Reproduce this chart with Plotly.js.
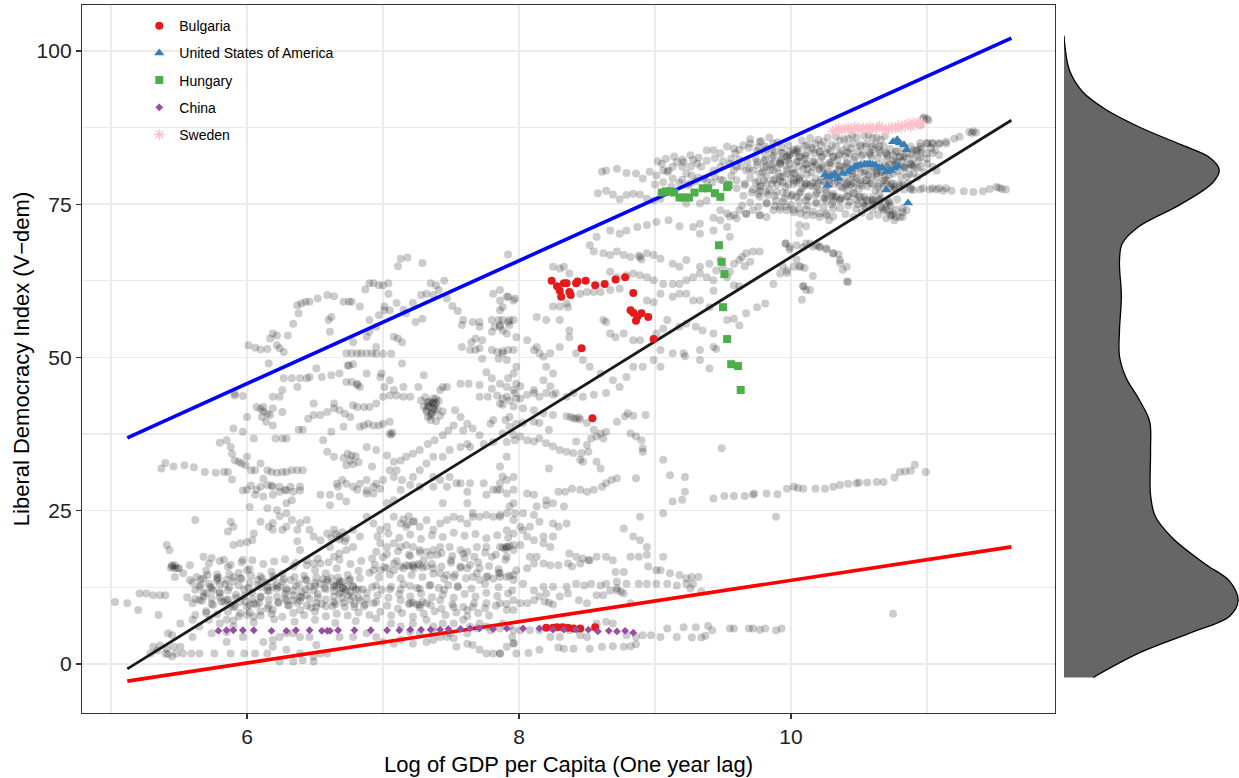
<!DOCTYPE html>
<html><head><meta charset="utf-8">
<script src="https://cdn.plot.ly/plotly-3.0.1.min.js"></script>
<style>html,body{margin:0;padding:0;background:#fff;}#chart{width:1239px;height:778px;}</style>
</head><body><div id="chart"></div>
<script>
// ---------- DATA ----------
// Gray background observations [log GDP per capita, Liberal Democracy Index]
const grayUpperLeft = [
[7.13,66.1],[7.18,66.3],[7.29,65.4],[7.11,64.9],[7.92,66.8],
[6.34,55.5],[6.38,57.2],[6.37,58.5],[6.40,58.8],[6.43,59.1],[6.46,59.1],[6.52,59.6],[6.59,60.2],[6.64,60.0],[6.71,59.1],[6.75,59.1],[6.77,59.1],[6.83,58.3],[6.87,61.1],[6.90,62.1],[6.93,62.1],[6.97,61.8],[7.00,61.8],[7.04,62.1],[7.04,60.4],[7.01,58.3],[7.05,57.7],[7.10,58.9],[7.15,57.8],[7.17,57.2],[7.22,58.9],[7.24,55.8],[7.28,60.2],[7.32,60.4],[7.35,62.1],[7.39,61.8],[7.41,61.0],[7.37,60.2],[7.29,56.3],
[6.01,52.0],[6.06,51.6],[6.10,51.3],[6.15,51.4],[6.22,52.0],[6.24,51.5],[6.27,50.9],[6.17,53.1],[6.19,53.9],[6.22,53.6],[6.30,53.6],[6.16,49.0],[6.60,56.1],[6.61,54.2],[6.62,56.6],
[6.73,50.7],[6.77,50.7],[6.81,50.7],[6.84,50.7],[6.88,50.7],[6.92,50.7],[6.95,50.6],[7.00,50.6],[7.06,50.6],[6.95,51.7],[6.75,48.7],[6.78,48.9],[6.73,46.0],[6.81,45.7],[6.83,45.2],[6.88,47.4],[6.99,47.4],[6.98,46.8],[7.08,53.4],[7.11,53.1],[7.14,52.5],[7.14,49.0],[6.78,52.5],[6.88,53.4],[6.90,54.2],[6.90,56.1],[6.95,55.0],[6.97,56.9],[7.01,57.7],
[7.58,51.7],[7.64,51.2],[7.68,51.2],[7.71,51.5],[7.65,52.5],[7.66,55.8],[7.71,55.8],[7.81,60.4],[7.86,59.3],[7.86,57.7],[7.80,56.1],[7.85,56.1],[7.88,56.1],[7.92,55.8],[7.96,56.1],[7.82,55.0],[7.86,55.3],[7.88,54.4],[7.93,55.3],[7.80,51.2],[7.84,50.9],[7.88,51.0],[7.92,51.2],[7.96,51.2],[7.85,49.8],[7.92,59.9],[7.97,59.6],[7.98,48.5],[7.92,46.6],[7.80,54.2],[7.73,49.8],
[6.51,48.2],[6.55,46.8],[6.62,47.1],[6.64,42.5],[6.68,47.4],[6.74,48.7],[6.77,46.0],[6.81,45.5],[6.44,46.6],[6.27,46.6],[6.33,46.6],[6.39,46.6],[6.46,46.8],[6.26,44.7],[6.37,45.2],[5.91,44.1],[6.19,43.6],[6.24,43.6],
[7.57,45.7],[7.63,45.7],[7.71,45.5],[7.80,46.6],[7.80,44.9],[7.76,47.6],[7.86,45.7],[7.91,45.2],[7.96,44.7],[7.98,45.7],[7.58,55.3],[7.73,52.8],[7.59,56.1],[7.68,53.1],[7.71,55.0],
[7.47,59.6],[7.51,58.4],[7.55,57.6],[7.45,62.5]
];
const grayMiddleLeft = [
[5.37,31.9],[5.40,32.8],[5.46,32.2],[5.54,32.4],[5.61,32.1],[5.69,31.3],[5.77,31.2],[5.83,31.3],[5.86,31.3],[5.89,30.1],
[5.80,36.1],[5.85,36.5],[5.88,35.4],[5.89,34.3],[5.90,38.4],[5.97,37.9],[5.91,33.2],[5.94,33.0],[5.96,32.7],[5.99,32.4],[6.03,31.6],[6.06,31.6],
[5.91,43.8],[5.97,43.7],[6.07,41.9],[6.12,41.9],[6.19,41.7],[6.17,40.6],[6.11,40.3],[6.26,41.1],[6.14,39.5],[6.19,38.9],[6.00,40.3],[6.05,36.8],[6.21,36.8],[6.26,36.8],[6.29,36.8],[6.38,38.2],[6.41,38.2],[6.45,40.0],[6.49,40.6],[6.54,40.6],[6.59,41.1],[6.64,41.7],[6.68,41.4],[6.72,40.8],[6.76,40.3],[6.71,38.7],[6.62,37.9],[6.56,36.5],[6.59,34.6],[6.64,33.8],[6.49,42.5],
[6.71,33.6],[6.74,34.3],[6.76,33.2],[6.78,32.6],[6.80,33.9],[6.73,32.4],[6.82,32.9],[6.77,34.0],
[6.83,38.7],[6.86,38.9],[6.89,39.2],[6.93,38.9],[6.97,38.9],[7.00,39.2],[7.05,39.5],[7.05,37.6],[7.06,37.4],[7.07,37.7],
[6.78,42.2],[6.81,41.9],[6.86,41.9],[6.90,41.9],[6.95,42.5],[7.00,43.6],[7.05,43.8],[7.10,43.8],[7.15,43.6],[7.20,43.6],
[7.05,46.3],[7.01,45.2],[7.08,44.7],[7.15,45.2],[7.26,45.2],[7.30,47.1],[7.28,43.0],[7.33,42.7],[7.37,42.7],[7.39,43.3],[7.42,44.7],[7.44,45.2],[7.47,45.2],
[7.30,42.0],[7.32,41.5],[7.34,42.8],[7.36,41.0],[7.38,42.2],[7.33,40.3],[7.35,39.8],[7.40,41.6],[7.42,40.5],[7.37,43.3],[7.31,43.5],[7.39,39.6],[7.44,41.2],[7.36,40.8],[7.41,42.9],
[7.32,41.2],[7.34,41.9],[7.36,42.5],[7.38,41.4],[7.35,40.5],[7.33,42.2],[7.37,41.7],[7.39,42.6],[6.12,41.2],[6.15,40.8],[6.10,41.6],
[7.53,41.4],[7.57,40.3],[7.62,39.2],[7.66,38.4],[7.71,37.3],[7.74,35.9],[7.59,38.1],[7.52,38.9],[7.48,38.1],[7.44,37.3],[7.38,36.5],[7.33,35.9],[7.27,34.9],[7.22,34.3],[7.17,33.8],[7.13,33.2],[7.10,31.6],[7.08,30.5],[7.14,30.0],
[7.71,43.6],[7.77,43.6],[7.84,43.8],[7.88,43.3],[7.93,43.0],[7.98,43.3],[7.86,42.5],[7.81,39.8],[7.79,39.2],[7.90,39.8],[7.93,40.3],[7.98,39.2],[7.81,36.2],[7.91,36.2],[7.97,36.5],[7.62,35.9],[7.64,35.4],[7.57,35.4],[7.49,34.9],[7.44,33.8],[7.37,33.8],[7.32,32.7],[7.27,31.6],[7.22,30.5],[7.37,30.5],[7.42,30.0],[7.49,30.5],[7.57,29.5],[7.64,29.5],[7.74,29.5],[7.81,28.4],[7.86,29.5],[7.91,30.0],[7.96,30.5],
[6.00,33.8],[6.10,32.7],[6.15,31.6],[6.18,31.3],[6.22,31.2],[6.26,31.3],[6.29,31.3],[6.33,31.6],[6.37,31.6],[6.41,31.6],[6.12,30.2],[6.18,29.1],[6.24,28.9],[6.29,28.3],[6.34,28.1],[6.39,28.3],[6.03,29.1],[6.07,28.4],[5.97,28.3],[6.66,29.4],[6.70,30.0],[6.73,29.4],[6.78,28.9],[6.83,29.4],[6.88,30.0],[6.88,28.3],[6.93,27.8],[6.95,29.4],[7.00,30.0],[7.05,31.6],[7.08,33.0],[6.92,32.2],[6.88,35.4],[6.95,34.9],[7.03,34.0]
];
const grayLowerLeft = [
[6.00,28.4],[6.10,28.9],[6.15,29.2],[6.19,28.9],[6.24,28.1],[6.28,28.4],[6.32,28.9],[6.19,27.6],[6.12,27.3],[6.06,27.6],[6.02,25.6],[6.15,25.4],[6.22,25.1],[6.29,26.2],[6.33,26.7],[6.39,28.9],[6.54,27.6],[6.61,27.6],[6.68,27.3],[6.67,28.9],[6.61,25.9],[6.73,26.5],[6.81,28.4],[6.88,27.8],[6.93,28.9],[6.98,28.6],[7.03,26.2],[7.08,26.7],[7.13,28.4],[7.20,29.2],[7.27,28.9],[7.37,28.9],[7.47,28.9],[7.54,29.5],[7.62,28.1],[7.76,27.6],[7.84,28.4],[7.91,27.8],[7.44,26.2],[7.62,26.2],[7.66,24.6],[7.96,26.2],
[5.62,23.5],[5.88,23.2],[5.90,22.4],[5.86,21.6],[5.90,19.4],[5.95,19.7],[6.00,19.9],[6.04,20.2],[6.05,21.3],[6.10,23.2],[6.16,22.4],[6.19,23.0],[6.24,24.1],[6.29,24.6],[6.33,23.5],[6.39,23.0],[6.44,23.5],[6.46,21.9],[6.37,21.9],[6.29,22.4],[6.26,21.9],[6.19,21.9],
[6.37,20.0],[6.39,18.6],[6.49,20.8],[6.54,20.2],[6.59,21.3],[6.64,21.9],[6.68,20.8],[6.73,20.5],[6.78,21.9],[6.83,20.8],[6.78,19.1],[6.73,18.6],[6.68,18.0],[6.64,17.5],[6.61,19.1],[6.54,16.4],[6.49,16.4],[6.44,16.9],
[6.88,24.0],[6.93,22.9],[6.98,21.9],[7.03,22.4],[7.08,24.0],[7.13,22.9],[7.17,22.4],[7.22,23.2],[7.27,22.4],[7.32,23.5],[7.37,21.9],[7.42,22.9],[7.47,23.5],[7.52,24.0],[7.57,23.7],[7.62,22.9],[7.66,24.0],[7.71,24.0],[7.76,24.3],[7.81,24.0],[7.86,24.3],[7.91,24.6],[7.97,24.6],
[6.98,19.7],[7.03,19.1],[7.08,19.7],[7.13,19.1],[7.17,19.4],[7.22,19.1],[7.27,18.6],[7.32,18.3],[7.37,18.6],[7.42,19.1],[7.49,19.1],[7.57,18.6],[7.62,18.3],[7.69,19.1],[7.76,19.1],[7.86,19.1],[7.91,19.1],[7.96,19.4],
[5.41,19.4],[5.43,18.6],[5.45,16.1],[5.47,15.6],[5.50,15.6],[5.47,14.2],[5.58,16.1],[5.45,15.9],[5.47,16.1],[5.49,15.6],[5.44,15.7],
[5.68,17.5],[5.74,17.3],[5.83,17.0],[5.78,14.0],[5.68,14.0],[5.85,13.7],[5.90,14.2],[5.97,17.0],[6.00,15.3],
[5.65,12.6],[5.70,11.5],[5.75,12.0],[5.80,11.5],[5.85,10.4],[5.90,9.3],[5.95,8.3],[6.00,9.3],[6.05,9.9],[6.10,11.0],[6.15,12.0],[6.19,12.6],[6.24,12.6],[6.29,12.0],[6.34,11.2],[6.39,11.0],[6.44,11.2],[6.49,12.0],[6.54,13.1],[6.59,13.4],[6.64,12.6],[6.68,13.1],[6.73,12.0],[6.78,11.0],[6.83,10.4],[6.68,11.5],[6.64,10.1],[6.51,9.3],[6.39,8.8],[6.29,10.4],[6.19,8.8],[6.10,8.6],[6.05,7.7],[6.00,8.0],
[5.29,1.7],[5.34,2.2],[5.40,1.7],[5.42,1.6],[5.48,1.7],[5.53,1.7],[5.59,1.7],[5.65,1.7],[5.76,1.7],[5.88,1.7],[5.98,1.7],[6.06,1.7],[6.15,1.7],[6.24,0.4],[6.34,0.4],[6.41,0.6],[6.49,0.4],
[5.31,2.8],[5.36,3.0],[5.41,2.5],[5.46,2.8],[5.51,2.8],[5.45,1.2],
[5.21,11.5],[5.26,11.5],[5.31,11.2],[5.36,11.2],[5.40,11.2],[5.12,9.9],[5.03,10.1],[5.20,8.8],[5.35,8.0],[5.51,6.6],[5.42,5.0],[5.45,4.7],
[5.53,14.8],[5.58,13.7],[5.65,10.4],[5.70,8.3],[5.72,7.2],[5.80,6.6],[5.85,7.2],[5.90,6.1],[5.65,6.1],[5.60,7.2],[5.74,5.0],[5.60,4.4],
[5.85,3.6],[5.85,5.2],[5.97,4.4],[6.12,3.6],[6.19,3.9],[6.24,4.4],[6.29,5.0],[6.34,5.0],[6.39,4.4],[6.46,4.4],[6.51,3.1],[6.54,1.7],[6.59,1.7],[6.49,1.2],[6.39,1.7],[6.29,2.3],[6.19,2.8],[6.68,4.4],[6.78,4.4],[6.88,5.0],[6.95,4.4],[7.00,3.6],[7.08,3.3],[7.13,3.9],[7.22,3.3],[7.32,3.6],[7.37,3.9],[7.42,4.4],[7.47,4.4],[7.52,4.2],[7.54,2.8],[7.62,3.3],[7.66,3.1],[7.71,2.3],[7.76,1.7],[7.81,1.7],[7.86,1.7],[7.91,2.8],[7.96,3.3],[7.62,5.0],[7.49,5.0],[7.37,5.2],[7.27,5.0],[7.20,5.2],[7.69,5.8],[7.76,6.1],
[6.93,15.3],[6.98,15.3],[7.03,15.6],[7.08,15.3],[7.13,15.9],[7.17,16.1],[7.22,15.9],[7.27,16.1],[7.32,15.9],[7.37,15.6],[7.42,14.8],[7.47,14.5],[7.52,14.2],[7.57,15.9],[7.62,15.6],[7.66,14.2],[7.71,13.7],[7.76,14.2],[7.81,13.9],[7.86,14.2],[7.91,14.2],[7.96,14.5],
[7.13,10.4],[7.20,9.9],[7.27,9.6],[7.32,9.9],[7.42,10.4],[7.52,9.3],[7.62,8.8],[7.66,9.3],[7.76,9.9],[7.86,9.9],[7.96,10.4],
[7.06,6.6],[7.13,6.1],[7.22,6.6],[7.32,7.2],[7.37,6.1],[7.44,6.6],[7.52,6.6],[7.59,7.2],[7.64,6.1],[7.71,6.6],[7.79,5.5],[7.86,5.8],[7.93,6.1],
[5.62,12.1],[5.68,11.6],[5.74,12.4],[5.80,11.8],[5.86,12.0],[5.92,11.3],[5.98,12.2],[6.04,11.7],[6.10,12.5],[6.16,11.9],[6.22,12.3],[6.28,11.5],[6.34,12.0],[6.40,11.8],[6.46,12.6],[6.52,11.4],[6.58,12.2],[6.64,11.9],[6.70,12.4],[6.76,11.7],[6.82,12.1],[6.88,11.6],
[5.70,15.2],[5.78,14.6],[5.86,15.8],[5.94,14.9],[6.02,15.5],[6.10,14.3],[6.18,15.1],[6.26,14.7],[6.34,15.9],[6.42,14.4],[6.50,15.3],[6.58,14.8],[6.66,15.6],[6.74,14.5],[6.82,15.2],[6.90,14.9],
[5.75,9.6],[5.83,10.1],[5.91,9.4],[5.99,10.2],[6.07,9.7],[6.15,9.1],[6.23,9.9],[6.31,9.5],[6.39,10.3],[6.47,9.2],[6.55,9.8],[6.63,9.4],[6.71,10.0],[6.79,9.3],[6.87,9.7],[6.95,10.1],[7.03,9.5],[7.11,9.0],[7.19,9.8],[7.27,9.2],[7.35,9.6],[7.43,9.0],[7.51,9.7],[7.59,9.3],[7.67,9.9],[7.75,9.1],[7.83,9.5],[7.91,9.8],
[5.90,7.1],[6.05,6.8],[6.20,7.3],[6.35,6.9],[6.50,7.2],[6.65,6.7],[6.80,7.0],[6.95,7.4],
[6.95,12.8],[7.05,12.2],[7.15,13.0],[7.25,12.4],[7.35,12.9],[7.45,12.1],[7.55,12.7],[7.65,12.3],[7.75,13.1],[7.85,12.5],[7.95,12.0],
[7.00,17.4],[7.10,16.8],[7.20,17.6],[7.30,17.0],[7.40,17.8],[7.50,16.9],[7.60,17.3],[7.70,16.6],[7.80,17.5],[7.90,17.0],
[6.66,12.9],[6.70,13.4],[6.73,12.6],[6.76,13.8],[6.80,12.2],[6.69,11.8],[6.74,11.2],[6.78,12.7],
[6.62,20.6],[6.65,21.2],[6.68,20.3],[6.70,21.5],[6.72,20.0],
[7.15,23.6],[7.19,24.1],[7.23,23.3],[7.18,22.8],
[7.88,19.0],[7.90,18.7],[7.93,19.2],
[7.22,10.0],[7.25,9.7],[7.29,10.2],[7.19,16.0],[7.23,15.6],[7.26,16.3]
];
const grayLowerLeftDense = [
[5.60,13.3],[5.66,13.8],[5.72,13.1],[5.78,13.6],[5.84,13.0],[5.90,13.5],[5.96,13.9],[6.02,13.2],[6.08,13.7],[6.14,13.3],[6.20,13.9],[6.26,13.4],[6.32,13.7],[6.38,13.1],[6.44,13.6],[6.50,13.2],[6.56,13.8],[6.62,14.0],[6.68,13.5],
[5.56,10.9],[5.62,10.6],[5.68,11.0],[5.74,10.7],[5.80,10.9],[5.86,10.5],[5.92,10.8],[5.98,11.1],[6.04,10.6],[6.10,10.9],[6.16,10.5],[6.22,11.0],[6.28,10.7],[6.34,10.4],[6.40,10.9],[6.46,10.6],[6.52,10.8],[6.58,10.5],[6.64,11.0],[6.70,10.7],[6.76,10.4],[6.82,10.9],[6.88,10.6],
[5.72,16.4],[5.80,16.8],[5.88,16.2],[5.96,16.6],[6.04,16.9],[6.12,16.3],[6.20,16.7],[6.28,17.1],[6.36,16.5],[6.44,16.1],[6.52,17.2],[6.60,16.6],[6.68,17.0],[6.76,16.3],[6.84,16.8],[6.92,17.2],
[5.62,8.0],[5.70,8.6],[5.78,8.1],[5.86,8.5],[5.94,7.8],[6.02,8.4],[6.10,7.9],[6.18,8.2],[6.26,7.7],[6.34,8.3],[6.42,8.0],[6.50,8.5],[6.58,7.8],[6.66,8.2],[6.74,7.9],[6.82,8.4],[6.90,8.0],[6.98,8.5],[7.06,7.9],[7.14,8.3],[7.22,7.7],[7.30,8.2],[7.38,8.6],[7.46,8.0],[7.54,8.4],[7.62,7.8],[7.70,8.3],[7.78,7.9],
[6.96,11.2],[7.04,10.8],[7.12,11.4],[7.20,11.0],[7.28,11.5],[7.36,10.9],[7.44,11.3],[7.52,10.8],[7.60,11.4],[7.68,11.0],[7.76,11.6],[7.84,11.1],[7.92,11.5],
[6.97,14.1],[7.05,14.6],[7.13,14.0],[7.21,14.5],[7.29,14.2],[7.37,14.7],[7.45,13.9],[7.53,14.6],[7.61,14.0],[7.69,14.8],[7.77,14.3],[7.85,14.9],[7.93,14.4],
[6.96,20.8],[7.04,21.3],[7.12,20.6],[7.20,21.1],[7.28,20.4],[7.36,21.0],[7.44,20.7],[7.52,21.4],[7.60,20.9],[7.68,21.2],[7.76,20.5],[7.84,21.0],[7.92,20.6]
];
const grayLowerLeftCore = [
[5.66,12.9],[5.73,12.6],[5.80,13.0],[5.87,12.5],[5.94,12.8],[6.01,12.4],[6.08,12.9],[6.15,12.5],[6.22,12.8],[6.29,12.3],[6.36,12.7],[6.43,12.2],[6.50,12.7],[6.57,12.4],[6.64,12.8],[6.71,12.3],[6.78,12.6],[6.85,12.2],[6.92,12.5],[6.99,12.1],[7.06,12.6],[7.13,12.2],[7.20,12.7],[7.27,12.3],[7.34,12.8],[7.41,12.4],[7.48,12.9],[7.55,12.5],
[5.60,9.9],[5.67,10.3],[5.74,9.8],[5.81,10.2],[5.88,9.7],[5.95,10.1],[6.02,9.6],[6.09,10.0],[6.16,9.5],[6.23,10.1],[6.30,9.6],[6.37,10.0],[6.44,9.5],[6.51,9.9],[6.58,9.4],[6.65,9.8],[6.72,9.3],[6.79,9.8],[6.86,9.4],[6.93,9.9],
[6.94,16.2],[7.01,15.8],[7.08,16.4],[7.15,15.6],[7.22,16.2],[7.29,15.7],[7.36,16.3],[7.43,15.9],[7.50,16.5],[7.57,15.7],[7.64,16.2],[7.71,15.6],[7.78,16.0],[7.85,15.5],
[6.95,18.3],[7.03,17.9],[7.11,18.4],[7.19,17.8],[7.27,18.2],[7.35,17.7],[7.43,18.1],[7.51,17.6],[7.59,18.0],[7.67,17.5],[7.75,18.2],[7.83,17.8],
[5.63,14.2],[5.71,14.5],[5.79,14.1],[5.87,14.6],[5.95,14.0],[6.03,14.4],[6.11,13.9],[6.19,14.3],[6.27,13.8],[6.35,14.2],[6.43,13.8],[6.51,14.1],[6.59,13.7],[6.67,14.1],[6.75,13.6],[6.83,14.0]
];
const grayLowerRight = [
[7.91,43.6],[7.97,44.2],[8.01,43.3],[8.06,43.9],[8.11,44.2],[8.15,43.6],[8.20,44.2],[8.25,43.9],[8.35,43.6],[8.40,44.2],[8.47,43.6],[8.55,43.9],[8.64,44.2],[7.88,42.3],[7.96,42.0],[8.03,41.7],[8.11,41.4],[8.18,40.9],[8.25,40.6],[8.35,40.4],[8.40,40.1],[8.45,39.9],[8.50,39.3],[8.55,38.2],[8.60,37.6],[8.64,37.9],[8.57,37.1],[8.62,36.8],[8.53,36.8],[8.50,35.7],[8.46,34.4],[8.51,34.6],[8.45,33.3],[8.47,33.0],[8.57,33.0],[8.60,31.9],[8.42,36.3],[8.22,31.9],[8.72,39.5],[8.78,40.4],[8.80,40.9],[8.84,40.5],[8.93,40.6],[8.82,37.6],[8.86,37.1],[8.90,36.5],[8.91,35.2],[8.91,34.6],[8.38,40.3],[8.42,40.0],[8.44,40.2],
[7.88,37.6],[7.96,37.4],[8.01,37.1],[8.06,36.5],[8.11,36.3],[8.15,36.8],[8.20,36.0],[8.25,35.5],[8.30,34.9],[8.35,34.6],[8.40,34.4],[7.93,38.7],[8.03,39.3],[8.11,39.5],[8.15,39.3],[8.22,38.2],
[9.06,33.3],[9.11,30.8],[9.22,30.5],[9.22,28.1],[9.13,26.5],[9.20,26.8],[9.06,24.6],[8.89,24.0],[8.86,30.3],[8.72,30.3],[8.68,30.0],[8.64,29.5],[8.61,28.9],[8.55,28.4],[8.50,28.1],[8.45,28.4],[8.39,28.6],[8.34,28.1],[8.29,28.1],[9.49,35.2],[9.89,24.0],[10.75,8.2],
[9.43,27.0],[9.51,27.4],[9.58,27.4],[9.66,27.4],[9.72,27.6],[9.73,27.8],[9.82,27.8],[9.90,27.7],[9.97,28.6],[10.02,28.9],[10.05,28.7],[10.09,28.6],[10.18,28.6],[10.25,28.6],[10.31,28.9],[10.36,29.2],[10.42,29.4],[10.48,29.5],[10.50,29.6],[10.56,29.6],[10.63,29.7],[10.68,29.7],[10.76,30.4],[10.80,31.3],[10.84,31.4],[10.88,31.5],[10.91,32.5],[10.99,31.3],
[7.86,32.2],[7.91,33.8],[7.88,30.6],[7.86,28.4],[7.96,28.4],[8.06,27.8],[8.11,27.6],[8.20,25.9],[8.33,25.7],[8.35,22.9],[8.29,22.4],[8.25,22.9],[8.15,23.2],[8.11,24.3],[8.03,24.6],[8.01,22.4],[7.96,23.5],[7.93,25.7],[8.01,19.4],[7.91,19.1],[8.06,20.8],[8.11,20.2],[8.18,20.8],[8.25,20.8],[8.23,19.1],[8.18,19.7],[8.13,17.5],[8.08,17.5],[8.11,16.4],[8.18,16.4],[8.23,16.1],[8.29,16.1],[8.36,16.4],[8.39,15.9],[8.45,16.4],[8.51,16.9],[8.57,17.5],[8.64,17.5],[8.69,16.9],[8.71,15.0],[8.77,15.0],[8.82,17.5],[8.88,17.5],[8.94,17.8],[8.95,15.9],[9.01,15.3],[9.06,17.5],[9.04,15.3],[9.11,14.8],[9.18,14.5],[9.23,14.0],[9.27,14.2],[9.32,14.2],[9.28,13.1],[9.26,12.3],[9.34,11.8],[9.23,13.1],[9.16,12.8],[9.09,13.1],[9.01,13.1],[8.94,13.1],[8.88,13.1],[8.79,13.1],[8.72,13.4],[8.64,13.1],[8.60,12.8],[8.53,13.1],[8.48,12.8],[8.42,13.1],[8.35,12.6],[8.25,12.6],[8.20,11.5],[8.15,11.0],[8.11,10.4],[8.06,9.9],[8.01,9.9],[7.96,8.8],[7.91,8.8],[8.30,11.0],[8.36,11.5],[8.44,10.4],[8.50,9.9],[8.57,11.2],[8.62,11.2],[8.67,12.0],[8.72,12.0],[8.77,11.5],[8.82,9.9],[8.19,10.2],[8.22,10.0],[8.25,9.7],[8.72,12.4],[8.75,11.8],
[7.88,6.6],[7.96,5.5],[8.01,5.5],[8.08,5.5],[8.15,5.5],[8.23,4.4],[8.30,4.4],[8.37,5.5],[8.45,4.7],[8.50,4.4],[8.57,6.6],[8.64,6.9],[8.69,6.6],[8.79,4.7],[8.86,4.4],[8.91,4.7],[8.97,4.7],[9.04,4.4],[9.09,5.8],[9.16,4.4],[9.21,6.0],[9.27,4.3],[9.30,6.0],[9.34,4.3],[9.37,4.6],[9.39,6.2],[9.42,5.5],[9.55,5.8],[9.58,5.8],[9.69,5.8],[9.72,5.8],[9.77,5.6],[9.81,5.8],[9.89,5.5],[9.93,5.8],[7.86,1.7],[7.98,1.7],[8.07,1.8],[8.15,2.3],[8.29,2.7],[8.33,2.5],[8.40,2.5],[8.52,2.5],[8.61,2.8],[8.69,2.9],[8.77,2.8],[8.82,2.9],[8.86,3.2],[7.96,3.4],[7.95,4.4],
[7.86,24.0],[7.91,21.8],[7.96,21.3],[8.03,21.8],[8.08,22.4],[8.13,25.7],[8.20,26.7],[8.25,26.2],[7.91,17.5],[7.96,18.6],[7.98,15.3],[8.06,15.6],[7.86,14.8],[7.96,13.7],[8.03,13.1],[8.11,12.0],[8.18,12.6],
[8.37,18.0],[8.42,17.5],[8.47,17.2],[8.52,16.9],[8.77,22.1],[8.84,20.8],[8.89,20.2],[8.94,19.1]
];
const grayMiddleRight = [
[9.01,72.1],[9.10,72.4],[9.18,71.4],[9.28,71.3],[9.33,71.8],[9.43,72.8],[9.48,72.4],[9.55,73.0],[9.60,72.7],[9.67,73.4],[9.77,73.2],
[8.57,69.7],[8.67,70.7],[8.74,70.2],[8.79,70.7],[8.87,71.3],[8.94,71.6],[9.33,70.2],[9.43,70.7],[9.53,71.3],[9.55,69.7],
[8.52,68.3],[8.55,67.3],[8.62,67.0],[8.67,66.7],[8.72,67.3],[8.77,66.7],[8.82,66.4],[8.89,66.4],[8.94,67.0],[8.99,66.7],[9.04,66.1],[9.13,65.3],[9.18,64.8],[9.23,65.9],[9.33,64.8],[9.40,65.3],[9.48,65.9],[9.58,65.3],[9.62,65.9],[9.67,67.0],[9.72,67.3],[9.77,67.3],[8.88,66.6],[8.90,66.0],[9.64,66.4],[9.70,65.6],[9.66,64.9],
[8.33,64.8],[8.37,63.7],[8.30,64.5],[8.25,64.8],[8.67,64.0],[8.72,63.1],[8.79,63.4],[8.84,63.7],[8.89,63.4],[8.94,63.1],[8.99,62.6],[9.06,62.0],[9.13,62.0],[9.18,62.0],[9.23,62.6],[9.28,63.1],[9.33,63.7],[9.38,63.1],[9.43,62.6],[9.53,63.1],[9.58,61.8],[9.62,61.6],[9.45,64.2],[9.50,64.6],[9.55,64.0],
[8.25,58.3],[8.30,58.3],[8.35,58.8],[8.45,60.4],[8.50,60.7],[8.55,60.7],[8.60,60.7],[8.67,61.0],[8.74,61.2],[8.94,59.3],[8.99,59.0],[9.04,60.4],[9.13,59.9],[9.18,60.4],[9.23,60.4],[9.28,59.3],[9.33,59.3],[9.40,58.2],[9.43,60.9],[8.36,58.2],
[8.13,56.6],[8.20,56.1],[8.30,56.1],[8.37,54.4],[8.62,56.1],[8.64,55.8],[8.67,53.9],[8.71,53.3],[8.77,53.9],[8.84,52.8],[8.89,52.8],[9.01,53.9],[9.06,54.7],[9.09,56.1],[9.18,55.0],[9.23,55.5],[9.30,55.0],[9.35,54.4],[9.43,53.9],[9.45,51.4],[9.53,56.1],[9.58,56.3],[9.62,55.2],[9.67,57.2],[9.75,58.2],[9.81,58.8],[9.87,62.0],
[9.96,68.6],[9.99,68.0],[10.04,68.3],[10.09,68.0],[10.14,68.6],[10.19,68.3],[10.21,68.0],[10.26,67.8],[10.31,67.0],[10.36,65.9],[10.41,64.8],[10.42,62.3],
[9.92,63.7],[9.97,64.2],[10.02,64.8],[10.07,64.8],[10.09,61.6],[10.11,61.0],[10.08,59.4],
[7.98,53.3],[8.06,52.8],[8.13,51.7],[8.18,50.1],[8.23,50.7],[8.30,51.7],[8.37,53.3],[8.42,50.7],[8.47,49.6],[8.52,48.5],[8.60,47.4],[8.69,46.3],[8.74,45.2],[8.79,46.8],[8.84,48.5],[8.91,48.5],[8.99,49.6],[9.04,51.2],[9.04,48.5],[9.13,50.7],[9.21,50.7],[9.33,51.2],[9.43,51.7],[9.40,48.2],[9.22,50.2],[9.33,49.6],
[7.86,61.0],[7.91,59.9],[7.96,59.3],[7.88,58.2],[7.93,56.1],[7.86,55.0],[7.91,53.9],[8.11,51.2],[8.15,50.7],[8.20,48.5],[8.25,47.4],[7.88,50.7],[7.91,49.6],[7.96,47.4],[8.01,45.3],[8.11,44.7],[8.18,46.3],[8.23,45.3],[8.27,44.2]
];
const grayUpperRight = [
[8.61,80.3],[8.64,80.5],[8.72,80.8],[8.79,80.1],[8.86,80.0],[8.91,79.2],[8.96,80.3],[9.01,79.7],[9.06,80.5],[9.10,80.5],[9.13,81.1],[9.20,81.1],[9.26,81.1],[9.31,81.6],[9.34,81.1],[9.38,83.8],[9.43,83.8],[9.48,83.3],[9.53,84.4],[9.58,84.1],[9.59,83.3],[9.28,82.2],[9.21,81.9],[9.16,81.9],[9.05,81.6],[9.09,80.3],[9.13,79.2],[9.23,80.0],[9.27,79.7],[9.43,80.5],[9.48,81.1],[9.55,81.6],[9.60,81.1],[9.67,80.5],[9.72,80.5],[9.77,80.0],[9.82,81.1],[9.87,80.5],[9.92,81.6],[9.97,82.7],[10.02,83.3],[10.07,82.7],[10.11,81.6],[10.16,81.1],[10.21,80.5],[10.26,80.0],[10.31,80.0],[10.36,81.1],[10.41,81.6],[10.21,83.5],[10.31,82.7],[10.43,83.3],[10.51,84.4],[10.56,84.9],[10.60,84.4],[10.65,83.8],[10.70,83.3],[10.75,82.2],[10.80,82.7],[10.85,83.3],[10.90,83.8],[10.95,84.4],[11.00,84.9],[11.04,84.9],[11.09,84.9],[11.14,84.9],[9.77,85.2],[9.87,84.9],[9.94,83.3],[9.99,83.5],[10.04,83.8],
[8.58,76.8],[8.64,77.2],[8.69,76.6],[8.74,75.8],[8.79,76.5],[8.84,76.7],[8.89,76.6],[8.94,75.9],[8.99,75.6],[9.04,75.9],[9.23,75.1],[9.33,75.1],[9.38,75.6],[9.48,74.0],[9.53,73.5],[9.58,73.2],[9.62,74.0],[9.67,73.5],[9.72,74.0],[9.77,73.2],[9.82,72.9],[9.87,74.0],[9.92,74.6],[9.97,74.0],[10.02,73.7],[10.07,73.5],[10.11,73.2],[10.16,73.2],[10.21,72.9],[10.26,73.5],[10.31,74.3],[10.36,75.6],[10.41,76.2],[10.46,76.7],[10.51,76.2],[10.56,75.6],[10.60,75.1],[10.65,75.6],[10.70,75.1],[10.75,73.5],[10.80,72.9],[10.85,74.0],[10.90,77.3],[10.97,77.6],[11.04,77.6],[11.09,77.6],[11.14,77.6],
[9.77,77.9],[9.82,78.4],[9.87,78.9],[9.94,79.5],[10.02,80.0],[10.07,79.5],[10.11,78.4],[10.19,77.9],[10.26,77.3],[10.31,76.7],[10.36,77.9],[10.41,78.4],[10.46,77.9],[10.51,78.4],[10.56,78.9],[10.63,79.5],[10.68,78.9],[10.73,77.9],[10.77,77.3],[9.97,76.7],[10.04,76.2],[10.11,75.6],[10.19,75.1],[10.26,75.6],[10.33,76.2],[9.77,76.2],[9.82,75.1],[9.89,75.6],[10.28,78.9],[10.56,81.6],[10.63,80.5],[10.70,81.1],[10.68,74.0],[10.73,73.2],[10.77,72.9],[10.82,73.7],
[10.97,89.0],[11.01,88.7],[10.95,87.9],[11.00,88.9],[10.98,89.2],
[10.95,85.0],[11.00,85.0],[11.04,85.0],[11.09,84.9],[11.14,85.2],[11.20,85.7],[11.24,86.0],[11.31,86.8],[11.33,86.6],[11.36,86.7],[11.34,86.9],
[10.75,77.4],[10.83,77.4],[10.88,77.4],[10.95,77.4],[11.02,77.4],[11.07,77.4],[11.12,77.2],[11.18,77.2],[11.27,77.1],[11.34,77.0],[11.41,77.1],[11.46,77.5],[11.51,77.8],[11.55,77.5],[11.58,77.4],[11.53,77.7],
[9.92,74.1],[9.97,74.6],[10.02,74.1],[10.06,74.3],[10.11,74.1],[10.16,73.8],[10.21,73.5],[10.26,73.2],[10.28,72.4],[10.31,73.0],[10.06,71.6],[10.11,71.4],[10.06,70.3],[9.96,68.6],[9.99,67.6],[10.11,68.6],[10.16,68.1],[10.21,68.1],[10.26,67.6],[10.31,67.0],[10.35,66.8],[10.04,66.0],[10.06,64.9],[9.94,64.9],[9.97,63.8],[10.10,64.6],[10.16,63.3],[10.36,65.4],[10.38,64.3],[10.41,62.4],[10.14,61.0],[10.09,61.6],[10.70,74.1],[10.74,73.2],[10.77,74.1],[10.82,74.3],
[9.92,82.2],[9.97,82.8],[10.02,83.9],[10.06,82.8],[10.11,83.3],[10.16,83.9],[10.21,83.6],[10.26,83.3],[10.31,82.8],[10.36,83.3],[10.41,84.4],[10.46,84.9],[10.51,84.7],[10.55,84.4],[10.60,83.9],[10.65,84.4],[10.70,83.3],[10.75,83.0],[10.80,82.8],[10.85,82.5],[10.90,82.5],[10.95,83.3],[11.00,83.3],[11.04,83.3],[11.09,83.0],[9.92,79.5],[9.97,80.0],[10.02,78.9],[10.06,79.2],[10.11,78.4],[10.16,77.9],[10.21,77.3],[10.26,76.8],[10.31,76.2],[10.41,77.3],[10.46,76.8],[10.50,76.2],[10.55,75.7],[10.60,76.2],[10.65,76.8],[10.41,79.5],[10.46,79.5],[10.51,78.9],[10.55,78.9],[10.60,78.4],[10.65,78.4],[10.70,78.9],[10.75,78.4],[10.80,78.4],[10.85,79.5],[10.90,80.0],[10.95,81.1],[11.00,81.6],[11.04,81.1],[11.07,80.5],[10.65,75.7],[10.72,75.2],[10.53,75.2],[10.60,75.7]
];
const grayUpperRightDense = [
[9.62,82.3],[9.68,81.9],[9.74,82.5],[9.80,82.0],[9.86,82.6],[9.92,81.8],[9.98,82.3],[10.04,81.9],[10.10,82.4],[10.16,82.0],[10.22,82.6],[10.28,81.7],[10.34,82.2],[10.40,82.8],[10.46,82.3],[10.52,82.9],[10.58,83.1],[10.64,82.6],[10.70,82.2],[10.76,81.8],[10.82,82.0],[10.88,81.5],[10.94,82.1],[11.00,82.4],
[9.70,79.3],[9.76,78.8],[9.82,79.6],[9.88,79.1],[9.94,78.6],[10.00,79.3],[10.06,78.9],[10.12,79.8],[10.18,79.2],[10.24,78.7],[10.30,79.4],[10.36,79.0],[10.42,78.6],[10.48,79.2],[10.54,80.1],[10.60,79.6],[10.66,80.2],[10.72,79.7],[10.78,80.4],[10.84,80.9],[10.90,81.2],
[9.65,76.4],[9.71,76.9],[9.77,77.2],[9.83,76.5],[9.89,77.0],[9.95,75.9],[10.01,76.5],[10.07,77.0],[10.13,76.3],[10.19,76.8],[10.25,76.1],[10.31,75.5],[10.37,76.0],[10.43,75.4],[10.49,75.0],[10.55,74.6],[10.61,74.9],[10.67,74.4],[10.73,74.8],
[9.65,84.6],[9.70,84.9],[9.76,84.3],[9.82,84.0],[9.88,83.6],[10.12,84.6],[10.18,84.9],[10.24,85.2],[10.30,84.7],[10.36,85.4],[10.42,85.7],[10.48,85.9],[10.54,86.1],[10.60,85.8],[10.66,85.5],
[10.92,83.7],[10.96,84.0],[11.03,84.2],[11.06,83.8],
[9.00,78.2],[9.06,78.6],[9.12,77.9],[9.18,78.5],[9.24,78.1],[9.30,78.8],[9.36,79.2],[9.42,78.5],[9.48,79.0],[9.54,78.3],[9.60,78.9],[9.66,78.4],
[9.70,85.6],[9.78,85.3],[9.84,85.9],[9.90,85.1],[10.08,85.4],[10.14,85.8],[10.20,85.5],[10.27,85.9],[10.33,86.0],[10.39,85.6],[10.45,86.2],[10.57,86.3],[10.63,85.9],[10.69,86.1],
[9.62,83.9],[9.69,84.2],[9.75,83.7],[9.81,84.4],[9.86,83.9],[9.93,84.3],[9.98,84.6],[10.05,84.1],[10.10,84.5],[10.15,84.2],[10.22,84.6],[10.27,84.0],[10.33,84.4],[10.38,83.8],[10.44,84.1],[10.49,83.6],[10.58,83.4],[10.62,84.8],[10.68,84.5],[10.73,84.0],[10.78,83.7],[10.83,84.0],[10.88,84.4],[10.93,83.9],
[9.58,80.6],[9.63,81.2],[9.69,80.8],[9.75,81.4],[9.80,80.9],[9.85,81.5],[9.90,81.0],[9.96,81.3],[10.01,80.7],[10.06,81.2],[10.12,80.8],[10.18,81.5],[10.23,81.0],[10.29,81.4],[10.35,80.6],[10.40,81.1],[10.45,80.5],[10.50,80.9],[10.55,80.4],[10.61,80.8],[10.67,80.3],[10.72,81.5],[10.78,81.9],[10.83,81.2],[10.88,81.6],[10.93,80.9],[10.98,80.2],
[9.60,77.6],[9.66,78.1],[9.72,77.4],[9.78,77.9],[9.84,77.3],[9.90,78.2],[9.96,77.8],[10.02,78.3],[10.08,77.6],[10.14,78.1],[10.20,78.5],[10.26,78.0],[10.32,78.4],[10.38,77.7],[10.44,78.2],[10.50,77.5],[10.56,77.9],[10.62,77.3],[10.68,77.8],[10.74,78.3],[10.80,77.9],[10.86,78.4],
[9.64,74.8],[9.70,75.3],[9.76,74.6],[9.82,75.2],[9.88,74.7],[9.94,75.4],[10.00,74.9],[10.06,75.5],[10.12,74.8],[10.18,75.3],[10.24,74.5],[10.30,75.0],[10.36,74.4],[10.42,74.8],[10.48,74.2],[10.54,74.7],[10.60,74.1],[10.66,74.5],[10.72,73.9],
[10.40,73.4],[10.46,72.9],[10.52,73.6],[10.58,73.0],[10.64,73.3],[10.70,72.7],[10.76,72.4],[10.82,72.9],
[9.20,79.0],[9.26,78.4],[9.32,79.3],[9.38,78.8],[9.44,79.5],[9.50,78.9],[9.56,79.6],
[9.02,82.0],[9.08,82.4],[9.14,82.8],[9.20,82.3],[9.26,83.0],[9.32,82.6],[9.38,82.1],[9.44,82.5],[9.50,82.0],[9.56,82.4]
];
const grayUpperRightCore = [
[9.81,83.1],[9.87,82.9],[9.93,83.4],[9.99,83.0],[10.05,83.5],[10.11,82.9],[10.17,83.3],[10.23,82.8],[10.29,83.6],[10.35,83.0],[10.41,83.4],[10.47,82.7],[10.53,83.2],[10.59,82.8],[10.65,83.4],[10.71,82.9],[10.77,83.5],[10.83,82.8],[10.89,83.2],[10.95,82.7],
[9.79,80.2],[9.85,80.6],[9.91,80.0],[9.97,80.5],[10.03,80.1],[10.09,80.7],[10.15,80.2],[10.21,80.8],[10.27,80.3],[10.33,80.0],[10.39,80.5],[10.45,79.9],[10.51,80.2],[10.57,79.8],[10.63,80.0],[10.69,79.5],[10.75,80.0],[10.81,79.6],[10.87,79.9],[10.93,79.4],
[9.74,78.5],[9.80,78.9],[9.86,78.3],[9.92,78.8],[9.98,78.2],[10.04,78.6],[10.10,78.0],[10.16,78.5],[10.22,78.9],[10.28,78.3],[10.34,78.7],[10.40,78.1],[10.46,78.5],[10.52,78.0],[10.58,78.4],[10.64,77.9],[10.70,78.3],[10.76,77.8],[10.82,78.2],[10.88,77.7],
[9.76,76.7],[9.82,77.0],[9.88,76.4],[9.94,76.9],[10.00,76.3],[10.06,76.7],[10.12,76.1],[10.18,76.5],[10.24,75.9],[10.30,76.4],[10.36,75.8],[10.42,76.3],[10.48,75.7],[10.54,76.2],[10.60,75.6],[10.66,76.0],[10.72,75.5],[10.78,75.8],
[9.75,81.9],[9.81,82.2],[9.87,81.7],[9.93,82.1],[9.99,81.6],[10.05,82.0],[10.11,81.5],[10.17,81.9],[10.23,81.4],[10.29,81.8],[10.35,81.3],[10.41,81.7],[10.47,81.2],[10.53,81.6],[10.59,81.1],[10.65,81.5],[10.71,81.0],[10.77,81.4],[10.83,80.9],[10.89,81.3]
];

// Highlighted countries
const bulgariaX = [8.24,8.28,8.30,8.31,8.33,8.35,8.37,8.38,8.42,8.43,8.49,8.56,8.63,8.71,8.78,8.84,8.82,8.84,8.87,8.86,8.90,8.95,8.99,8.46,8.54,8.20,8.25,8.28,8.32,8.36,8.40,8.45,8.56];
const bulgariaY = [62.5,61.6,60.9,59.9,62.1,62.1,60.7,60.2,62.1,62.4,62.5,61.8,62.0,62.7,63.1,60.5,57.7,57.3,56.7,56.0,57.2,56.6,53.0,51.5,40.1,5.9,5.9,6.0,6.0,5.9,5.8,5.8,6.0];
const usaX = [10.25,10.27,10.27,10.35,10.38,10.42,10.47,10.51,10.54,10.58,10.62,10.65,10.70,10.73,10.76,10.79,10.75,10.78,10.80,10.83,10.85,10.70,10.86,10.30,10.32,10.44,10.49,10.56,10.60,10.67];
const usaY = [79.8,79.4,78.1,79.2,80.0,80.3,81.1,81.4,81.5,81.6,81.4,80.9,80.3,80.5,80.9,81.2,85.2,85.5,85.0,84.7,83.9,77.3,75.2,79.6,79.9,80.7,81.3,81.5,81.5,81.0];
const hungaryX = [9.05,9.08,9.11,9.14,9.18,9.21,9.25,9.29,9.35,9.39,9.44,9.48,9.53,9.54,9.47,9.49,9.51,9.50,9.53,9.56,9.61,9.63];
const hungaryY = [76.9,77.1,77.1,76.9,76.1,76.1,76.1,76.9,77.6,77.6,76.8,76.2,77.8,78.1,68.3,65.6,63.6,58.2,53.0,48.9,48.6,44.7];
const chinaX = [5.79,5.85,5.90,5.97,6.05,6.18,6.29,6.36,6.46,6.55,6.59,6.61,6.67,6.79,6.91,7.03,7.12,7.20,7.28,7.35,7.42,7.48,7.57,7.64,7.71,7.81,7.91,8.03,8.15,8.25,8.33,8.42,8.51,8.58,8.66,8.72,8.78,8.84];
const chinaY = [5.4,5.5,5.5,5.5,5.5,5.4,5.4,5.5,5.5,5.4,5.4,5.4,5.5,5.5,5.5,5.5,5.5,5.6,5.6,5.6,5.6,5.7,5.7,5.8,5.8,5.7,5.8,5.8,5.8,5.6,5.6,5.6,5.6,5.3,5.4,5.3,5.4,5.1];
const swedenX = [10.31,10.33,10.35,10.37,10.40,10.42,10.44,10.47,10.49,10.51,10.53,10.56,10.58,10.60,10.63,10.65,10.67,10.70,10.72,10.74,10.77,10.79,10.81,10.84,10.86,10.88,10.90,10.92,10.94,10.96];
const swedenY = [86.9,87.1,87.4,87.0,87.3,87.5,87.2,87.6,87.4,87.1,87.5,87.3,87.6,87.2,87.5,87.7,87.4,87.1,87.3,87.6,87.4,87.8,87.5,87.9,88.1,87.7,88.3,88.0,88.4,88.2];

// Fitted lines (end points)
const fitX = [5.12, 11.62];
const upperFitY = [36.9, 102.1];
const meanFitY = [-0.8, 88.7];
const lowerFitY = [-2.8, 19.1];

// Marginal density of the Liberal Democracy Index
const densityLevels = [102.5,96.8,93.3,90.5,87.6,84.8,82.7,80.6,78.5,74.9,71.4,68.6,65.7,60.1,54.4,50.2,46.7,43.1,39.6,34.7,27.6,24.1,20.6,16.3,13.5,10.3,7.8,5.0,1.8,-2.2];
const densityValues = [0.0000,0.0006,0.0020,0.0044,0.0080,0.0123,0.0154,0.0165,0.0158,0.0123,0.0080,0.0062,0.0059,0.0061,0.0059,0.0059,0.0066,0.0080,0.0091,0.0092,0.0092,0.0097,0.0115,0.0150,0.0176,0.0185,0.0176,0.0133,0.0080,0.0031];

// Axis ticks
const xTicks = [6, 8, 10];
const xMinorTicks = [5, 7, 9, 11];
const yTicks = [0, 25, 50, 75, 100];
const yMinorTicks = [12.5, 37.5, 62.5, 87.5];

// ---------- BUILD ----------
const FONT = '"Liberation Sans", Arial, Helvetica, sans-serif';
const grayAll = [].concat(grayUpperLeft, grayMiddleLeft, grayLowerLeft, grayLowerLeftDense, grayLowerLeftCore,
                          grayLowerRight, grayMiddleRight, grayUpperRight, grayUpperRightDense, grayUpperRightCore);

const traces = [
  {type:'scatter', mode:'markers', x: grayAll.map(p=>p[0]), y: grayAll.map(p=>p[1]),
   marker:{color:'rgba(0,0,0,0.2)', size:8, line:{width:0}}, showlegend:false, hoverinfo:'skip'},
  {type:'scatter', mode:'lines', x: fitX, y: upperFitY, line:{color:'#0000FF', width:3.6}, showlegend:false, hoverinfo:'skip'},
  {type:'scatter', mode:'lines', x: fitX, y: meanFitY, line:{color:'#1a1a1a', width:2.8}, showlegend:false, hoverinfo:'skip'},
  {type:'scatter', mode:'lines', x: fitX, y: lowerFitY, line:{color:'#FF0000', width:3.6}, showlegend:false, hoverinfo:'skip'},
  {type:'scatter', mode:'markers', name:'Bulgaria', legendgroup:'g1', x: bulgariaX, y: bulgariaY,
   marker:{color:'#E41A1C', size:8, symbol:'circle', line:{width:0}}},
  {type:'scatter', mode:'markers', name:'United States of America', legendgroup:'g2', x: usaX, y: usaY,
   marker:{color:'#377EB8', size:9, symbol:'triangle-up', line:{width:0}}},
  {type:'scatter', mode:'markers', name:'Hungary', legendgroup:'g3', x: hungaryX, y: hungaryY,
   marker:{color:'#4DAF4A', size:8, symbol:'square', line:{width:0}}},
  {type:'scatter', mode:'markers', name:'China', legendgroup:'g4', x: chinaX, y: chinaY,
   marker:{color:'#984EA3', size:6, symbol:'diamond', line:{width:0}}},
  {type:'scatter', mode:'markers', name:'Sweden', legendgroup:'g5', x: swedenX, y: swedenY,
   marker:{color:'#FFC0CB', size:9, symbol:'asterisk-open', line:{width:1.3, color:'#FFC0CB'}}},
  {type:'scatter', mode:'lines', x: densityValues, y: densityLevels, xaxis:'x2', yaxis:'y2',
   fill:'tozerox', fillcolor:'#666666', line:{color:'#000000', width:1.3, shape:'spline', smoothing:1},
   showlegend:false, hoverinfo:'skip'}
];

const layout = {
  width:1239, height:778,
  margin:{l:82, r:0, t:5, b:65, pad:0},
  paper_bgcolor:'#ffffff', plot_bgcolor:'#ffffff',
  font:{family:FONT, color:'#000'},
  showlegend:true,
  legend:{x:0.0495, y:0.9928, xanchor:'left', yanchor:'top', bgcolor:'rgba(0,0,0,0)', borderwidth:0,
          font:{size:14, color:'#000', family:FONT}, traceorder:'grouped', tracegroupgap:6, itemsizing:'trace'},
  xaxis:{domain:[0, 0.841], range:[4.787, 11.941], tickmode:'array', tickvals:xTicks, ticktext:xTicks.map(String),
         showgrid:true, gridcolor:'#ebebeb', gridwidth:1.5,
         minor:{tickmode:'array', tickvals:xMinorTicks, showgrid:true, gridcolor:'#ebebeb', gridwidth:1.2, ticks:''},
         zeroline:false, showline:true, mirror:true, linecolor:'#333333', linewidth:1.2,
         ticks:'outside', ticklen:5, tickwidth:1.2, tickcolor:'#333333',
         tickfont:{size:21, color:'#222', family:FONT},
         title:{text:'Log of GDP per Capita (One year lag)', font:{size:22, color:'#000', family:FONT}, standoff:9},
         anchor:'y', automargin:false, fixedrange:true},
  yaxis:{domain:[0,1], range:[-8.0, 107.5], tickmode:'array', tickvals:yTicks, ticktext:yTicks.map(String),
         showgrid:true, gridcolor:'#ebebeb', gridwidth:1.5,
         minor:{tickmode:'array', tickvals:yMinorTicks, showgrid:true, gridcolor:'#ebebeb', gridwidth:1.2, ticks:''},
         zeroline:false, showline:true, mirror:true, linecolor:'#333333', linewidth:1.2,
         ticks:'outside', ticklen:5, tickwidth:1.2, tickcolor:'#333333',
         tickfont:{size:21, color:'#222', family:FONT},
         title:{text:'Liberal Democracy Index (V\u2212dem)', font:{size:22, color:'#000', family:FONT}, standoff:0},
         anchor:'x', automargin:false, fixedrange:true},
  xaxis2:{domain:[0.8487, 1], range:[0, 0.0186], visible:false, anchor:'y2', fixedrange:true},
  yaxis2:{domain:[0,1], range:[-8.0, 107.5], visible:false, anchor:'x2', fixedrange:true}
};

Plotly.newPlot('chart', traces, layout, {displayModeBar:false, staticPlot:true});
</script>
</body></html>
